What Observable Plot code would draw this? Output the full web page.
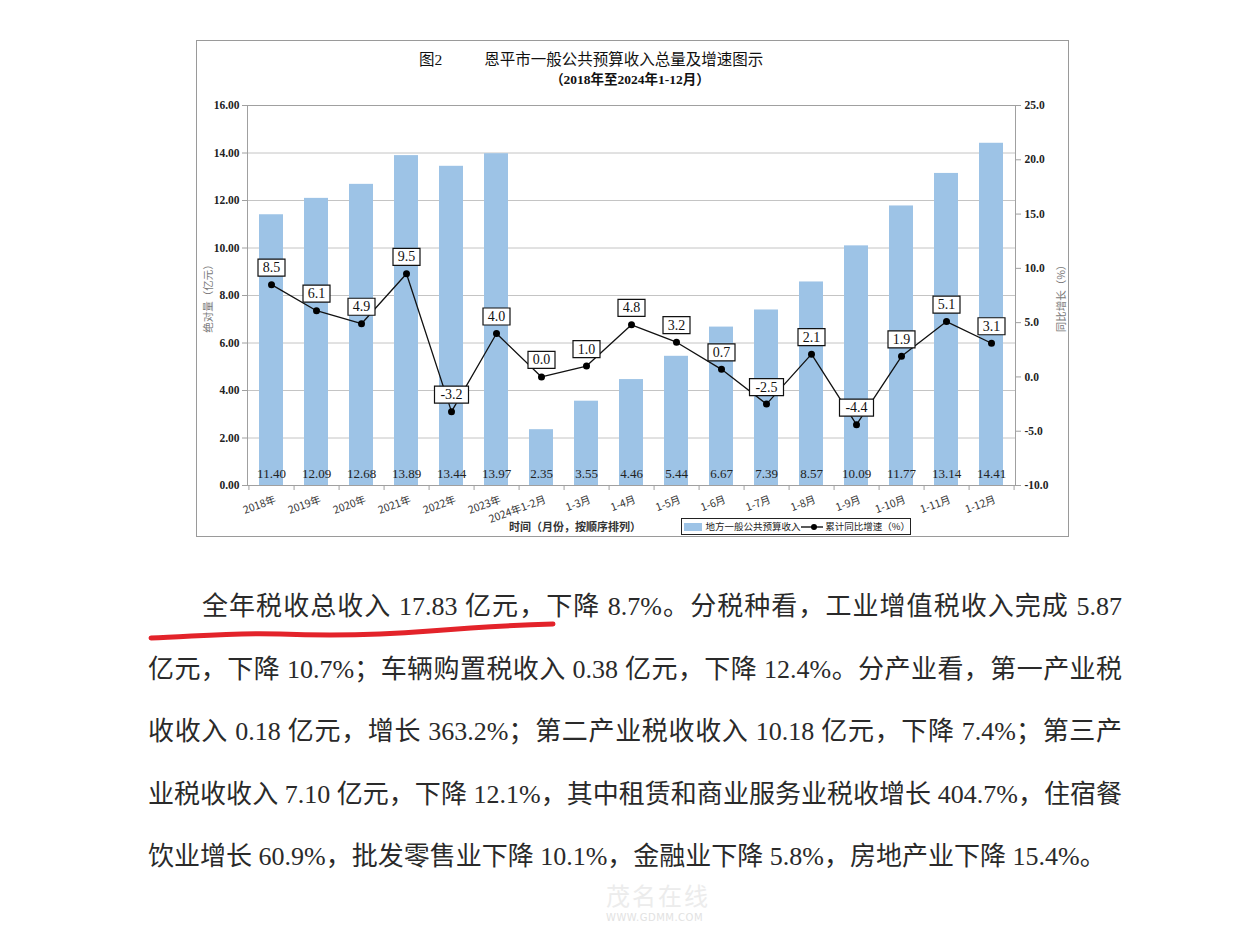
<!DOCTYPE html>
<html><head><meta charset="utf-8">
<script src="https://cdn.jsdelivr.net/npm/d3@7"></script>
<script src="https://cdn.jsdelivr.net/npm/@observablehq/plot@0.6"></script>
<style>
html,body{margin:0;padding:0;background:#fff;}
body{width:1238px;height:927px;overflow:hidden;position:relative;font-family:"Liberation Serif","Noto Sans CJK SC",serif;color:#222;}
.abs{position:absolute;}
#frame{left:196px;top:40px;width:873px;height:497px;border:1px solid #9a9a9a;box-sizing:border-box;}
#t1{top:50px;left:419px;font-size:15.5px;white-space:nowrap;line-height:20px;color:#111;}
#t1 .fig{margin-right:42px;}
#t2{top:71px;left:538px;width:184px;text-align:center;font-size:13.5px;font-weight:bold;white-space:nowrap;line-height:18px;color:#111;}
#chart{left:196px;top:90px;}
.ytitle{font-family:"Noto Sans CJK SC";font-size:10.5px;color:#7a7a7a;white-space:nowrap;transform:translate(-50%,-50%) rotate(-90deg);}
#xtitle{left:509px;top:518px;font-family:"Noto Sans CJK SC";font-size:11px;font-weight:bold;color:#333;white-space:nowrap;line-height:16px;}
#legend{left:681px;top:518px;width:230px;height:17px;border:1px solid #222;box-sizing:border-box;font-family:"Noto Sans CJK SC";font-size:9.5px;line-height:15px;color:#222;white-space:nowrap;display:flex;align-items:center;}
#legend .sw{display:inline-block;width:22px;height:8px;background:#9dc3e6;margin:0 3px 0 2px;}
#legend svg{margin:0 2px 0 1px;}
.para{position:absolute;font-size:26px;line-height:40px;height:40px;white-space:nowrap;text-align:justify;text-align-last:justify;color:#2a2a2a;font-family:"Liberation Serif","Noto Sans CJK SC",serif;}
#wm{left:606px;top:882px;font-family:"Noto Sans CJK SC";font-size:24px;line-height:26px;color:#ececec;letter-spacing:2px;}
#wm2{left:606px;top:912px;font-family:"DejaVu Sans";font-size:10px;line-height:12px;color:#e2e2e2;letter-spacing:0.5px;}
</style>
</head>
<body>
<div id="frame" class="abs"></div>
<div id="t1" class="abs"><span class="fig">图2</span>恩平市一般公共预算收入总量及增速图示</div>
<div id="t2" class="abs">（2018年至2024年1-12月）</div>
<div id="chart" class="abs"></div>
<div class="abs ytitle" style="left:207px;top:296px;">绝对量（亿元）</div>
<div class="abs ytitle" style="left:1060px;top:296px;">同比增长（%）</div>
<div id="xtitle" class="abs">时间（月份，按顺序排列）</div>
<div id="legend" class="abs"><span class="sw"></span><span>地方一般公共预算收入</span><svg width="26" height="10"><line x1="0" y1="5" x2="26" y2="5" stroke="#000" stroke-width="1.3"/><circle cx="13" cy="5" r="3" fill="#000"/></svg><span>累计同比增速（%）</span></div>

<div class="para" style="left:202px;top:587px;width:920px;">全年税收总收入 17.83 亿元，下降 8.7%。分税种看，工业增值税收入完成 5.87</div>
<div class="para" style="left:148px;top:650px;width:974px;">亿元，下降 10.7%；车辆购置税收入 0.38 亿元，下降 12.4%。分产业看，第一产业税</div>
<div class="para" style="left:148px;top:712px;width:974px;">收收入 0.18 亿元，增长 363.2%；第二产业税收收入 10.18 亿元，下降 7.4%；第三产</div>
<div class="para" style="left:148px;top:775px;width:974px;">业税收收入 7.10 亿元，下降 12.1%，其中租赁和商业服务业税收增长 404.7%，住宿餐</div>
<div class="para" style="left:148px;top:837px;width:952px;">饮业增长 60.9%，批发零售业下降 10.1%，金融业下降 5.8%，房地产业下降 15.4%。</div>
<svg class="abs" style="left:0;top:0;pointer-events:none" width="1238" height="927"><path d="M151,638 C190,637 230,632 280,634 S380,635 430,631 S520,625 553,624" fill="none" stroke="#e3232a" stroke-width="5" stroke-linecap="round"/></svg>
<div id="wm" class="abs">茂名在线</div>
<div id="wm2" class="abs">WWW.GDMM.COM</div>

<script>
// ---- data ----
const categories = ["2018年","2019年","2020年","2021年","2022年","2023年","2024年1-2月","1-3月","1-4月","1-5月","1-6月","1-7月","1-8月","1-9月","1-10月","1-11月","1-12月"];
const revenue = [11.40,12.09,12.68,13.89,13.44,13.97,2.35,3.55,4.46,5.44,6.67,7.39,8.57,10.09,11.77,13.14,14.41];
const growth = [8.5,6.1,4.9,9.5,-3.2,4.0,0.0,1.0,4.8,3.2,0.7,-2.5,2.1,-4.4,1.9,5.1,3.1];
const leftTicks = [0,2,4,6,8,10,12,14,16];
const rightTicks = [-10,-5,0,5,10,15,20,25];

// ---- chart ----
const y2 = d3.scaleLinear([-10, 25], [0, 16]);
const rows = categories.map((c, i) => ({cat: c, rev: revenue[i], g: growth[i], gy: y2(growth[i]), lab: growth[i].toFixed(1)}));
const W = 873, H = 440, mL = 51, mR = 54, mT = 15, mB = 45;
const n = categories.length;
const step = (W - mL - mR) / n;
const box = w => ({draw(ctx) { ctx.moveTo(-w/2, -8.5); ctx.lineTo(w/2, -8.5); ctx.lineTo(w/2, 8.5); ctx.lineTo(-w/2, 8.5); ctx.closePath(); }});
const pos = rows.filter(d => d.g >= 0), neg = rows.filter(d => d.g < 0);
const tickH = 5 / ((H - mT - mB) / 16);

const chart = Plot.plot({
  width: W, height: H,
  marginLeft: mL, marginRight: mR, marginTop: mT, marginBottom: mB,
  style: {background: "transparent", fontFamily: "'Liberation Serif','Noto Sans CJK SC',serif", color: "#222", overflow: "visible"},
  x: {type: "band", domain: categories, paddingInner: 0.47, paddingOuter: 0.235, axis: null},
  y: {domain: [0, 16], axis: null},
  marks: [
    Plot.gridY(leftTicks, {stroke: "#c4c4c4", strokeOpacity: 1}),
    Plot.barY(rows, {x: "cat", y: "rev", fill: "#9dc3e6"}),
    Plot.frame({stroke: "#a0a0a0"}),
    Plot.ruleX(categories, {x: d => d, y1: 0, y2: -tickH, dx: step / 2, stroke: "#a0a0a0"}),
    Plot.ruleX([categories[0]], {x: d => d, y1: 0, y2: -tickH, dx: -step / 2, stroke: "#a0a0a0"}),
    Plot.axisY(leftTicks, {anchor: "left", tickFormat: d => d.toFixed(2), tickSize: 5, tickPadding: 3, fontSize: 11.5, fontWeight: "bold", stroke: "#a0a0a0", fill: "#222", label: null}),
    Plot.axisY(rightTicks, {anchor: "right", y: y2, tickFormat: d => d.toFixed(1), tickSize: 5, tickPadding: 4, fontSize: 11.5, fontWeight: "bold", stroke: "#a0a0a0", fill: "#222", label: null}),
    Plot.text(categories, {x: d => d, y: 0, text: d => d, rotate: -20, textAnchor: "end", lineAnchor: "bottom", dx: 5, dy: 17, fontSize: 10.5, fontFamily: "Noto Sans CJK SC", fill: "#333"}),
    Plot.text(rows, {x: "cat", y: 0, text: d => d.rev.toFixed(2), dy: -12, fontSize: 13, fill: "#222"}),
    Plot.line(rows, {x: "cat", y: "gy", stroke: "#111", strokeWidth: 1.3}),
    Plot.dot(rows, {x: "cat", y: "gy", r: 3.5, fill: "#000", stroke: "none"}),
    Plot.dot(pos, {x: "cat", y: "gy", symbol: box(27), fill: "white", stroke: "#111", strokeWidth: 1.2, dy: -17}),
    Plot.dot(neg, {x: "cat", y: "gy", symbol: box(34), fill: "white", stroke: "#111", strokeWidth: 1.2, dy: -17}),
    Plot.text(rows, {x: "cat", y: "gy", text: "lab", dy: -17, fontSize: 14, fill: "#111"})
  ]
});
document.getElementById("chart").appendChild(chart);
</script>
</body></html>
